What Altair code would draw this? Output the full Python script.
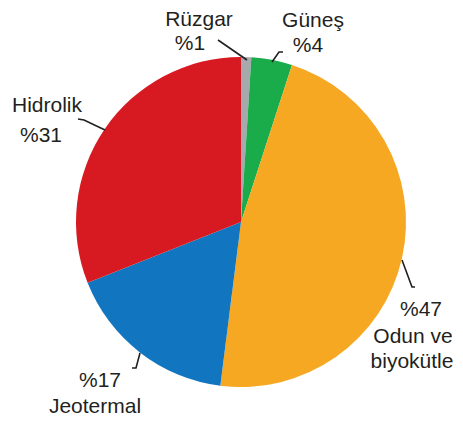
import altair as alt
import pandas as pd

# ---- data ----
categories = ["Rüzgar", "Güneş", "Odun ve biyokütle", "Jeotermal", "Hidrolik"]
shares = [1, 4, 47, 17, 31]
colors = ["#a8a9ad", "#1aab4b", "#f7a823", "#1176bf", "#d71a21"]

# label text lines per category (name parts and percentage, in display order)
label_lines = {
    "Rüzgar": ["Rüzgar", "%1"],
    "Güneş": ["Güneş", "%4"],
    "Odun ve biyokütle": ["%47", "Odun ve", "biyokütle"],
    "Jeotermal": ["%17", "Jeotermal"],
    "Hidrolik": ["Hidrolik", "%31"],
}

# ---- layout (page pixel positions of annotations) ----
OFF = 8
CX, CY, R = 241 - OFF, 222 - OFF, 165
label_pos = {
    "Rüzgar": [(199, 26), (190, 50)],
    "Güneş": [(313, 27), (308, 52)],
    "Odun ve biyokütle": [(421, 316), (413, 343), (412, 368)],
    "Jeotermal": [(100, 387), (95, 413)],
    "Hidrolik": [(47, 112), (41, 142)],
}
leader_pts = {
    "Rüzgar": [(218, 40), (247, 60)],
    "Güneş": [(283, 52), (279, 52), (272, 62)],
    "Odun ve biyokütle": [(402, 260), (412, 287), (415, 287)],
    "Jeotermal": [(140, 353), (136, 368), (132, 368)],
    "Hidrolik": [(78, 119), (84, 120), (105, 130)],
}

pie_df = pd.DataFrame({"cat": categories, "share": shares, "ord": list(range(len(categories)))})

text_rows = []
for cat in categories:
    for line, (px, py) in zip(label_lines[cat], label_pos[cat]):
        text_rows.append({"t": line, "x": px - OFF, "y": py - OFF})
text_df = pd.DataFrame(text_rows)

line_rows = []
for cat in categories:
    for i, (px, py) in enumerate(leader_pts[cat]):
        line_rows.append({"cat": cat, "i": i, "x": px - OFF, "y": py - OFF})
line_df = pd.DataFrame(line_rows)

pie = alt.Chart(pie_df).mark_arc(radius=R).encode(
    theta=alt.Theta("share:Q", stack=True),
    color=alt.Color("cat:N", scale=alt.Scale(domain=categories, range=colors), legend=None),
    order=alt.Order("ord:Q"),
    x=alt.value(CX),
    y=alt.value(CY),
)

leaders = alt.Chart(line_df).mark_line(color="#231f20", strokeWidth=1.6).encode(
    x=alt.X("x:Q", scale=None, axis=None),
    y=alt.Y("y:Q", scale=None, axis=None),
    detail="cat:N",
    order="i:Q",
)

texts = alt.Chart(text_df).mark_text(
    font="Liberation Sans", fontSize=21, color="#231f20", align="center", baseline="alphabetic"
).encode(
    x=alt.X("x:Q", scale=None, axis=None),
    y=alt.Y("y:Q", scale=None, axis=None),
    text="t:N",
)

chart = alt.layer(pie, leaders, texts).properties(
    width=447, height=410, autosize="none", padding=0, background="white"
).configure_view(stroke=None)

chart.save("out.html", embed_options={"renderer": "svg", "actions": False})
